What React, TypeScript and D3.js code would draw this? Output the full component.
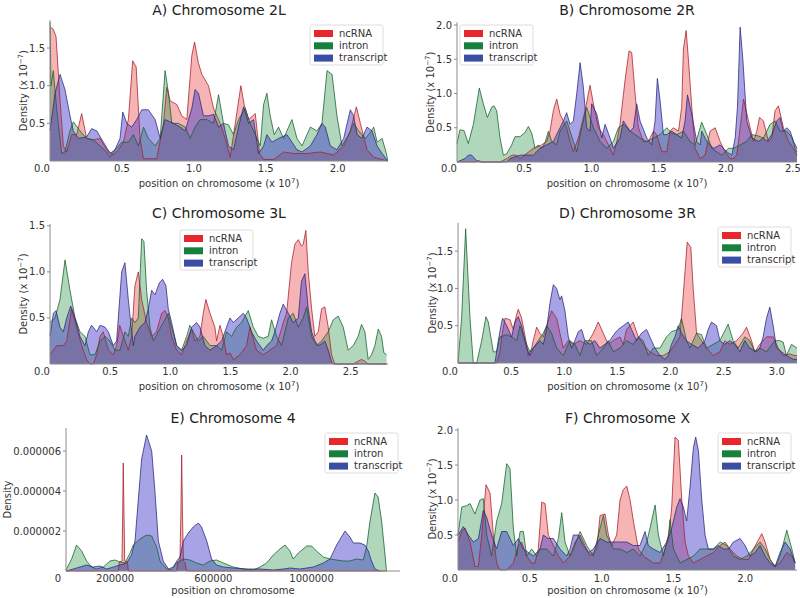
import React from "react";
import * as d3 from "d3";

type Pt = [number, number];

// ---------- A) Chromosome 2L  (x: position x1e7, y: density x1e-7)
const ncRNA2L: Pt[] = [[0,1.78],[0.023,1.75],[0.042,1.65],[0.07,0.8],[0.093,0.2],[0.116,0.12],[0.151,0.35],[0.186,0.35],[0.22,0.63],[0.255,0.3],[0.302,0.28],[0.348,0.3],[0.394,0.15],[0.441,0.08],[0.476,0.15],[0.51,0.25],[0.545,0.55],[0.575,1.33],[0.599,1.25],[0.626,0.3],[0.65,0.03],[0.742,0.03],[0.789,0.5],[0.812,0.98],[0.835,0.8],[0.882,0.75],[0.916,0.6],[0.951,0.55],[0.986,1.4],[1.005,1.58],[1.032,1.3],[1.056,1.15],[1.102,1.0],[1.137,0.7],[1.183,0.5],[1.218,0.3],[1.253,0.05],[1.288,0.5],[1.327,1.0],[1.35,0.75],[1.381,0.55],[1.427,0.63],[1.457,0.1],[1.485,0.02],[1.555,0.02],[1.624,0.12],[1.694,0.1],[1.787,0.1],[1.879,0.12],[1.972,0.08],[2.042,0.2],[2.088,0.4],[2.13,0.72],[2.158,0.5],[2.204,0.15],[2.251,0.05],[2.348,0]];
const intron2L: Pt[] = [[0,1.85],[0.007,1.0],[0.023,1.2],[0.046,0.7],[0.081,0.1],[0.104,0.12],[0.139,0.4],[0.162,0.52],[0.209,0.4],[0.255,0.3],[0.302,0.28],[0.348,0.2],[0.394,0.12],[0.418,0.05],[0.452,0.15],[0.499,0.25],[0.545,0.25],[0.58,0.35],[0.615,0.2],[0.65,0.45],[0.684,0.3],[0.731,0.2],[0.766,0.3],[0.8,1.2],[0.824,0.9],[0.847,0.5],[0.893,0.5],[0.94,0.45],[0.974,0.3],[1.009,0.45],[1.044,0.55],[1.09,0.55],[1.137,0.5],[1.172,0.88],[1.206,0.5],[1.241,0.48],[1.276,0.35],[1.311,0.55],[1.357,0.7],[1.392,0.5],[1.439,0.3],[1.462,0.2],[1.485,0.75],[1.508,0.9],[1.531,0.6],[1.559,0.35],[1.589,0.45],[1.624,0.3],[1.682,0.55],[1.717,0.3],[1.752,0.2],[1.81,0.45],[1.856,0.4],[1.891,0.5],[1.926,1.2],[1.961,1.15],[1.995,0.6],[2.03,0.2],[2.077,0.35],[2.111,0.5],[2.146,0.4],[2.193,0.3],[2.227,0.38],[2.251,0.45],[2.274,0.25],[2.309,0.3],[2.339,0.1],[2.348,0]];
const transcript2L: Pt[] = [[0,0.4],[0.035,0.9],[0.07,1.15],[0.104,0.95],[0.139,0.6],[0.162,0.4],[0.197,0.3],[0.255,0.32],[0.29,0.43],[0.325,0.4],[0.371,0.25],[0.418,0.1],[0.452,0.15],[0.487,0.3],[0.506,0.65],[0.534,0.5],[0.568,0.45],[0.603,0.55],[0.638,0.68],[0.684,0.68],[0.731,0.55],[0.766,0.3],[0.8,0.55],[0.858,0.5],[0.905,0.45],[0.94,0.4],[0.986,0.7],[1.009,0.95],[1.032,0.9],[1.067,0.6],[1.102,0.6],[1.137,0.62],[1.172,0.45],[1.206,0.5],[1.241,0.2],[1.276,0.15],[1.311,0.45],[1.346,0.72],[1.381,0.5],[1.415,0.55],[1.45,0.1],[1.485,0.2],[1.508,0.35],[1.543,0.25],[1.589,0.3],[1.647,0.35],[1.682,0.25],[1.717,0.15],[1.752,0.12],[1.81,0.2],[1.856,0.35],[1.891,0.5],[1.914,0.45],[1.949,0.2],[1.995,0.15],[2.042,0.3],[2.088,0.68],[2.111,0.6],[2.135,0.35],[2.169,0.3],[2.204,0.45],[2.239,0.4],[2.274,0.2],[2.309,0.1],[2.348,0]];

// ---------- B) Chromosome 2R
const ncRNA2R: Pt[] = [[0,0],[0.14,0],[0.16,0.02],[0.19,0],[0.32,0],[0.37,0.05],[0.41,0.1],[0.44,0.1],[0.47,0.05],[0.568,0.2],[0.63,0.25],[0.667,0.3],[0.692,0.45],[0.717,0.75],[0.742,0.92],[0.767,0.7],[0.816,0.5],[0.841,0.3],[0.866,0.15],[0.903,0.35],[0.953,0.75],[0.99,1.12],[1.015,0.85],[1.052,0.5],[1.089,0.4],[1.127,0.25],[1.164,0.1],[1.189,0.3],[1.213,0.55],[1.251,1.2],[1.28,1.62],[1.3,1.6],[1.325,1.0],[1.35,0.5],[1.387,0.3],[1.424,0.3],[1.462,0.45],[1.486,0.4],[1.524,0.15],[1.561,0.15],[1.586,0.45],[1.61,0.5],[1.648,0.45],[1.672,0.8],[1.685,1.65],[1.705,1.92],[1.722,1.5],[1.747,0.8],[1.772,0.2],[1.809,0.05],[1.846,0.1],[1.883,0.45],[1.921,0.5],[1.958,0.3],[1.995,0.15],[2.032,0.05],[2.057,0.05],[2.082,0.1],[2.107,0.5],[2.132,0.92],[2.169,0.6],[2.206,0.3],[2.231,0.45],[2.251,0.65],[2.28,0.6],[2.318,0.3],[2.342,0.35],[2.367,0.75],[2.392,0.82],[2.429,0.5],[2.467,0.3],[2.504,0.2],[2.53,0.1]];
const intron2R: Pt[] = [[0,0.27],[0.022,0.47],[0.052,0.46],[0.084,0.27],[0.122,0.55],[0.166,1.08],[0.196,0.85],[0.226,0.65],[0.258,0.8],[0.275,0.82],[0.295,0.75],[0.32,0.35],[0.345,0.1],[0.37,0.12],[0.407,0.25],[0.432,0.37],[0.469,0.37],[0.506,0.43],[0.531,0.52],[0.556,0.42],[0.581,0.2],[0.605,0.25],[0.63,0.2],[0.655,0.28],[0.68,0.45],[0.705,0.3],[0.742,0.25],[0.767,0.45],[0.816,0.6],[0.866,0.3],[0.891,0.15],[0.928,0.5],[0.965,0.8],[1.015,0.5],[1.065,0.3],[1.114,0.2],[1.164,0.3],[1.201,0.5],[1.238,0.55],[1.288,0.45],[1.325,0.4],[1.362,0.35],[1.412,0.3],[1.462,0.35],[1.511,0.4],[1.561,0.5],[1.598,0.42],[1.635,0.4],[1.685,0.45],[1.734,0.3],[1.772,0.25],[1.821,0.58],[1.859,0.4],[1.896,0.2],[1.933,0.15],[1.97,0.1],[2.02,0.2],[2.057,0.2],[2.107,0.25],[2.156,0.3],[2.194,0.4],[2.243,0.38],[2.28,0.35],[2.33,0.55],[2.367,0.6],[2.404,0.45],[2.454,0.45],[2.495,0.35],[2.516,0.2],[2.53,0.15]];
const transcript2R: Pt[] = [[0,0],[0.06,0.05],[0.084,0.1],[0.109,0.1],[0.146,0.02],[0.171,0],[0.37,0],[0.395,0.05],[0.469,0.1],[0.519,0.1],[0.568,0.1],[0.618,0.2],[0.667,0.25],[0.717,0.3],[0.754,0.45],[0.792,0.6],[0.816,0.72],[0.841,0.55],[0.866,0.6],[0.891,1.0],[0.916,1.45],[0.94,1.1],[0.965,0.5],[0.99,0.45],[1.002,0.85],[1.04,0.7],[1.077,0.35],[1.102,0.55],[1.139,0.35],[1.164,0.2],[1.213,0.35],[1.238,0.6],[1.288,0.45],[1.313,0.5],[1.337,0.85],[1.362,0.6],[1.412,0.35],[1.449,0.25],[1.474,0.6],[1.491,1.22],[1.511,0.9],[1.536,0.4],[1.561,0.4],[1.598,0.45],[1.635,0.4],[1.672,0.35],[1.697,0.6],[1.715,0.98],[1.747,0.7],[1.784,0.3],[1.809,0.25],[1.821,0.45],[1.859,0.3],[1.908,0.2],[1.958,0.25],[2.007,0.15],[2.045,0.1],[2.07,0.35],[2.087,0.8],[2.107,1.97],[2.127,1.5],[2.156,0.6],[2.194,0.35],[2.243,0.3],[2.28,0.35],[2.305,0.3],[2.342,0.4],[2.38,0.6],[2.404,0.65],[2.429,0.45],[2.454,0.5],[2.479,0.45],[2.504,0.3],[2.53,0.2]];

// ---------- C) Chromosome 3L
const ncRNA3L: Pt[] = [[0,0.1],[0.055,0.2],[0.111,0.2],[0.139,0.25],[0.18,0.6],[0.222,0.4],[0.263,0.2],[0.305,0.05],[0.332,0],[0.36,0],[0.388,0.1],[0.416,0.3],[0.443,0.35],[0.485,0.15],[0.526,0.1],[0.554,0.2],[0.58,0.42],[0.61,0.3],[0.651,0.15],[0.679,0.3],[0.706,0.85],[0.734,1.0],[0.762,0.7],[0.803,0.45],[0.845,0.3],[0.886,0.35],[0.928,0.55],[0.956,0.58],[0.983,0.5],[1.011,0.3],[1.053,0.15],[1.094,0.1],[1.136,0.25],[1.177,0.38],[1.205,0.25],[1.247,0.3],[1.274,0.55],[1.296,0.7],[1.33,0.55],[1.371,0.4],[1.385,0.25],[1.413,0.42],[1.44,0.3],[1.468,0.1],[1.496,0.12],[1.524,0.05],[1.579,0.1],[1.634,0.2],[1.662,0.4],[1.717,0.15],[1.773,0.1],[1.828,0.15],[1.884,0.2],[1.939,0.45],[1.967,0.55],[2.008,1.1],[2.036,1.3],[2.064,1.35],[2.091,1.28],[2.105,1.3],[2.127,1.45],[2.147,1.0],[2.175,0.6],[2.202,0.3],[2.23,0.35],[2.258,0.6],[2.285,0.62],[2.313,0.4],[2.341,0.1],[2.368,0],[2.521,0],[2.562,0.03],[2.59,0.05],[2.618,0.03],[2.645,0],[2.798,0]];
const intron3L: Pt[] = [[0,0.45],[0.042,0.5],[0.083,0.7],[0.125,1.13],[0.166,0.8],[0.208,0.5],[0.249,0.35],[0.291,0.3],[0.332,0.1],[0.374,0.1],[0.416,0.25],[0.457,0.3],[0.499,0.25],[0.54,0.15],[0.582,0.15],[0.623,0.35],[0.651,0.3],[0.679,0.5],[0.706,0.45],[0.734,0.5],[0.762,1.36],[0.781,1.33],[0.803,0.8],[0.831,0.4],[0.859,0.25],[0.9,0.35],[0.942,0.45],[0.983,0.55],[1.011,0.4],[1.053,0.2],[1.094,0.15],[1.136,0.3],[1.163,0.42],[1.191,0.35],[1.233,0.25],[1.274,0.3],[1.33,0.2],[1.385,0.2],[1.427,0.15],[1.468,0.35],[1.51,0.3],[1.551,0.4],[1.593,0.45],[1.648,0.58],[1.69,0.4],[1.731,0.3],[1.773,0.28],[1.814,0.3],[1.842,0.48],[1.884,0.3],[1.925,0.2],[1.981,0.5],[2.022,0.55],[2.064,0.4],[2.105,0.5],[2.133,0.62],[2.175,0.3],[2.216,0.2],[2.258,0.25],[2.313,0.35],[2.355,0.48],[2.396,0.52],[2.438,0.4],[2.479,0.15],[2.521,0.2],[2.562,0.3],[2.59,0.43],[2.618,0.35],[2.645,0.05],[2.673,0.1],[2.701,0.2],[2.729,0.38],[2.756,0.3],[2.776,0.12],[2.798,0.1]];
const transcript3L: Pt[] = [[0,0.3],[0.028,0.55],[0.05,0.58],[0.083,0.4],[0.111,0.35],[0.139,0.5],[0.172,0.63],[0.208,0.5],[0.249,0.3],[0.291,0.2],[0.319,0.35],[0.346,0.42],[0.388,0.35],[0.416,0.42],[0.457,0.4],[0.485,0.35],[0.526,0.2],[0.554,0.25],[0.568,0.5],[0.596,1.0],[0.623,1.1],[0.651,0.7],[0.679,0.35],[0.693,0.2],[0.706,0.3],[0.748,0.4],[0.789,0.45],[0.817,0.6],[0.845,0.8],[0.873,0.75],[0.909,0.88],[0.936,0.92],[0.964,0.85],[0.983,0.6],[1.011,0.45],[1.053,0.2],[1.094,0.15],[1.136,0.2],[1.177,0.4],[1.219,0.45],[1.247,0.4],[1.288,0.2],[1.33,0.15],[1.385,0.2],[1.427,0.25],[1.468,0.4],[1.496,0.5],[1.524,0.45],[1.565,0.5],[1.607,0.55],[1.634,0.5],[1.676,0.35],[1.717,0.25],[1.773,0.15],[1.801,0.2],[1.842,0.25],[1.87,0.35],[1.911,0.55],[1.939,0.65],[1.981,0.55],[2.022,0.45],[2.064,0.5],[2.091,0.9],[2.119,0.98],[2.147,0.6],[2.175,0.35],[2.202,0.25],[2.23,0.2],[2.258,0.22],[2.285,0.25],[2.313,0.15],[2.341,0.02],[2.355,0],[2.798,0]];

// ---------- D) Chromosome 3R
const ncRNA3R: Pt[] = [[0,0],[0.364,0],[0.395,0.15],[0.411,0.35],[0.442,0.6],[0.489,0.58],[0.52,0.45],[0.552,0.65],[0.567,0.72],[0.599,0.6],[0.646,0.25],[0.661,0.1],[0.693,0.2],[0.708,0.3],[0.74,0.48],[0.771,0.4],[0.803,0.35],[0.834,0.5],[0.881,0.7],[0.928,0.6],[0.959,0.4],[0.991,0.2],[1.038,0.3],[1.085,0.25],[1.147,0.3],[1.21,0.25],[1.273,0.4],[1.32,0.55],[1.367,0.4],[1.414,0.25],[1.461,0.3],[1.524,0.35],[1.555,0.25],[1.586,0.45],[1.649,0.55],[1.696,0.35],[1.743,0.25],[1.806,0.15],[1.868,0.1],[1.931,0.1],[1.994,0.15],[2.041,0.25],[2.088,0.35],[2.119,0.9],[2.157,1.62],[2.191,1.55],[2.213,1.0],[2.245,0.4],[2.292,0.3],[2.339,0.2],[2.401,0.1],[2.464,0.15],[2.511,0.3],[2.558,0.25],[2.621,0.3],[2.683,0.4],[2.715,0.48],[2.762,0.3],[2.793,0.15],[2.84,0.25],[2.903,0.35],[2.966,0.35],[3.013,0.2],[3.06,0.1],[3.122,0.12],[3.169,0.1],[3.19,0.1]];
const intron3R: Pt[] = [[0,0],[0.034,0.6],[0.072,1.8],[0.113,0.6],[0.144,0],[0.176,0],[0.223,0.3],[0.263,0.62],[0.285,0.55],[0.332,0.15],[0.364,0.15],[0.395,0.35],[0.458,0.38],[0.505,0.35],[0.552,0.3],[0.583,0.5],[0.63,0.3],[0.677,0.15],[0.708,0.2],[0.755,0.3],[0.803,0.4],[0.834,0.5],[0.881,0.4],[0.928,0.2],[0.991,0.1],[1.053,0.3],[1.1,0.25],[1.147,0.1],[1.194,0.3],[1.257,0.3],[1.304,0.1],[1.367,0.2],[1.414,0.3],[1.461,0.15],[1.524,0.2],[1.586,0.3],[1.649,0.25],[1.696,0.35],[1.743,0.3],[1.79,0.1],[1.837,0.2],[1.9,0.2],[1.962,0.35],[2.009,0.42],[2.072,0.45],[2.103,0.6],[2.15,0.3],[2.182,0.2],[2.245,0.4],[2.292,0.38],[2.339,0.2],[2.401,0.25],[2.464,0.3],[2.542,0.52],[2.589,0.3],[2.636,0.2],[2.699,0.35],[2.746,0.3],[2.793,0.15],[2.84,0.2],[2.903,0.15],[2.981,0.3],[3.028,0.3],[3.06,0.28],[3.091,0.1],[3.138,0.25],[3.169,0.22],[3.19,0.2]];
const transcript3R: Pt[] = [[0,0],[0.348,0],[0.379,0.3],[0.411,0.55],[0.42,0.6],[0.458,0.5],[0.505,0.35],[0.536,0.55],[0.567,0.62],[0.599,0.5],[0.646,0.2],[0.677,0.1],[0.708,0.2],[0.771,0.3],[0.803,0.25],[0.834,0.45],[0.865,0.8],[0.897,1.05],[0.928,1.0],[0.959,0.85],[0.975,0.9],[1.006,0.7],[1.038,0.35],[1.069,0.2],[1.1,0.3],[1.132,0.42],[1.163,0.45],[1.194,0.3],[1.241,0.25],[1.288,0.3],[1.335,0.2],[1.382,0.25],[1.429,0.3],[1.476,0.4],[1.508,0.45],[1.555,0.5],[1.602,0.55],[1.633,0.45],[1.68,0.3],[1.727,0.4],[1.774,0.45],[1.821,0.3],[1.853,0.2],[1.9,0.1],[1.947,0.05],[1.978,0.1],[2.009,0.25],[2.041,0.35],[2.072,0.5],[2.103,0.4],[2.15,0.3],[2.197,0.25],[2.26,0.2],[2.292,0.25],[2.323,0.3],[2.354,0.45],[2.386,0.55],[2.433,0.5],[2.464,0.3],[2.511,0.25],[2.558,0.3],[2.605,0.25],[2.652,0.15],[2.699,0.3],[2.746,0.2],[2.809,0.15],[2.84,0.2],[2.871,0.35],[2.903,0.6],[2.934,0.75],[2.966,0.5],[2.997,0.2],[3.044,0.15],[3.091,0.1],[3.154,0.05],[3.19,0.05]];

// ---------- E) Chromosome 4  (x: bp, y: density x1e-6)
const ncRNA4: Pt[] = [[0,0],[213000,0],[217000,0.45],[228000,0.5],[231000,3.0],[233000,5.4],[236000,3.0],[239000,0.5],[250000,0.45],[254000,0],[451000,0],[455000,0.45],[464000,0.5],[468000,3.0],[471000,5.8],[474000,3.0],[478000,0.5],[484000,0.45],[491000,0],[1305000,0]];
const intron4: Pt[] = [[0,0.05],[23000,0.6],[43000,1.3],[64000,1.0],[84000,0.5],[104000,0.2],[125000,0.1],[152000,0.2],[179000,0.5],[199000,0.55],[220000,0.45],[240000,0.4],[261000,0.9],[274000,1.3],[301000,1.6],[328000,1.8],[349000,1.75],[369000,1.2],[383000,0.5],[410000,0.1],[430000,0.05],[451000,0.4],[478000,0.6],[505000,0.55],[532000,0.4],[559000,0.3],[586000,0.5],[613000,0.55],[641000,0.4],[681000,0.2],[722000,0.1],[763000,0.05],[790000,0.2],[817000,0.4],[844000,0.8],[871000,1.1],[892000,1.3],[912000,1.0],[925000,0.6],[946000,0.9],[980000,1.25],[1000000,1.25],[1020000,1.0],[1048000,0.7],[1075000,0.6],[1102000,0.55],[1129000,0.5],[1156000,0.5],[1183000,0.6],[1210000,0.55],[1224000,1.2],[1238000,2.5],[1258000,3.9],[1271000,3.7],[1285000,2.5],[1299000,0.8],[1305000,0]];
const transcript4: Pt[] = [[0,0],[30000,0.1],[57000,0.2],[84000,0.3],[111000,0.2],[138000,0.25],[166000,0.1],[193000,0.2],[220000,0.3],[247000,0.4],[267000,0.8],[281000,1.5],[294000,3.5],[308000,5.6],[328000,6.8],[349000,6.0],[362000,4.0],[376000,1.5],[396000,0.5],[417000,0.1],[437000,0.2],[451000,0.5],[464000,0.7],[478000,1.5],[498000,1.9],[518000,2.2],[539000,2.4],[552000,2.2],[573000,1.5],[593000,0.6],[613000,0.3],[641000,0.2],[681000,0.15],[736000,0.1],[790000,0.1],[844000,0.05],[885000,0.1],[912000,0.15],[953000,0.1],[1007000,0.2],[1048000,0.4],[1075000,0.6],[1102000,1.3],[1136000,2.0],[1156000,1.7],[1170000,1.4],[1197000,1.4],[1217000,1.3],[1231000,1.0],[1244000,0.5],[1258000,0.1],[1278000,0]];

// ---------- F) Chromosome X
const ncRNAX: Pt[] = [[0,0.4],[0.026,0.55],[0.049,0.6],[0.084,0.4],[0.118,0.05],[0.142,0.05],[0.165,0.5],[0.195,1.22],[0.223,1.1],[0.246,0.5],[0.269,0.1],[0.292,0],[0.339,0],[0.385,0.1],[0.42,0.35],[0.443,0.4],[0.478,0.2],[0.513,0.1],[0.536,0.1],[0.559,0.3],[0.583,0.97],[0.606,0.95],[0.629,0.5],[0.664,0.35],[0.699,0.2],[0.734,0.1],[0.78,0.2],[0.815,0.4],[0.85,0.5],[0.884,0.35],[0.919,0.2],[0.966,0.3],[0.989,0.78],[1.024,0.8],[1.047,0.5],[1.07,0.35],[1.105,0.5],[1.128,1.0],[1.151,1.15],[1.175,1.2],[1.198,1.0],[1.221,0.7],[1.256,0.3],[1.291,0.2],[1.325,0.15],[1.36,0.1],[1.407,0.1],[1.442,0.3],[1.465,0.45],[1.488,0.9],[1.511,1.9],[1.534,1.85],[1.558,1.0],[1.581,0.4],[1.604,0.2],[1.639,0.1],[1.685,0.15],[1.732,0.2],[1.778,0.25],[1.825,0.35],[1.859,0.4],[1.894,0.3],[1.941,0.2],[1.987,0.15],[2.022,0.15],[2.057,0.3],[2.115,0.52],[2.138,0.4],[2.173,0.15],[2.208,0.05],[2.242,0.1],[2.289,0.25],[2.324,0.2],[2.347,0.1]];
const intronX: Pt[] = [[0,0.5],[0.026,0.9],[0.06,0.92],[0.084,0.95],[0.118,0.8],[0.153,1.0],[0.176,1.02],[0.2,0.5],[0.234,0.2],[0.269,0.7],[0.304,0.95],[0.339,1.52],[0.362,1.45],[0.385,0.6],[0.409,0.2],[0.432,0.55],[0.455,0.55],[0.478,0.2],[0.513,0.3],[0.548,0.2],[0.571,0.3],[0.617,0.3],[0.664,0.2],[0.699,0.45],[0.722,0.82],[0.745,0.4],[0.78,0.2],[0.803,0.3],[0.85,0.55],[0.896,0.35],[0.942,0.2],[0.989,0.6],[1.012,0.78],[1.035,0.5],[1.082,0.3],[1.128,0.3],[1.175,0.25],[1.221,0.3],[1.267,0.2],[1.314,0.4],[1.337,0.6],[1.372,0.93],[1.395,0.5],[1.43,0.2],[1.465,0.5],[1.476,0.72],[1.5,0.3],[1.546,0.1],[1.592,0.15],[1.639,0.2],[1.685,0.3],[1.732,0.3],[1.778,0.3],[1.825,0.4],[1.871,0.35],[1.917,0.2],[1.964,0.15],[2.01,0.2],[2.057,0.3],[2.103,0.4],[2.138,0.3],[2.173,0.15],[2.208,0.05],[2.242,0.2],[2.289,0.57],[2.324,0.3],[2.347,0.1]];
const transcriptX: Pt[] = [[0,0.5],[0.037,0.62],[0.072,0.5],[0.107,0.4],[0.142,0.45],[0.176,0.85],[0.2,0.75],[0.234,0.5],[0.269,0.3],[0.304,0.55],[0.339,0.55],[0.385,0.35],[0.42,0.45],[0.455,0.3],[0.49,0.25],[0.525,0.2],[0.571,0.3],[0.594,0.5],[0.629,0.45],[0.664,0.45],[0.71,0.3],[0.757,0.2],[0.78,0.3],[0.803,0.5],[0.838,0.5],[0.873,0.35],[0.908,0.25],[0.942,0.3],[0.989,0.45],[1.035,0.4],[1.082,0.4],[1.128,0.4],[1.175,0.4],[1.221,0.35],[1.267,0.35],[1.302,0.55],[1.325,0.35],[1.36,0.3],[1.407,0.25],[1.453,0.4],[1.488,0.6],[1.523,0.9],[1.546,1.02],[1.569,0.9],[1.592,0.7],[1.616,1.2],[1.639,1.75],[1.655,1.9],[1.674,1.7],[1.697,1.0],[1.72,0.5],[1.743,0.3],[1.778,0.3],[1.813,0.35],[1.848,0.3],[1.883,0.3],[1.917,0.4],[1.964,0.45],[1.999,0.35],[2.033,0.2],[2.068,0.25],[2.103,0.35],[2.138,0.2],[2.173,0.1],[2.208,0.05],[2.242,0.25],[2.277,0.4],[2.312,0.3],[2.347,0.1]];

// ---------- ticks
const xTicks2L = [0, 0.5, 1.0, 1.5, 2.0];
const xTicks2R = [0, 0.5, 1.0, 1.5, 2.0, 2.5];
const xTicks3L = [0, 0.5, 1.0, 1.5, 2.0, 2.5];
const xTicks3R = [0, 0.5, 1.0, 1.5, 2.0, 2.5, 3.0];
const xTicks4 = [0, 200000, 600000, 1000000];
const xTicksX = [0, 0.5, 1.0, 1.5, 2.0];
const yTicks2L = [0.5, 1.0, 1.5];
const yTicks2R = [0.5, 1.0, 1.5, 2.0];
const yTicks3L = [0.5, 1.0, 1.5];
const yTicks3R = [0.5, 1.0, 1.5];
const yTicks4 = [2, 4, 6];
const yTickLabels4 = ["0.000002", "0.000004", "0.000006"];
const yTicksX = [0.5, 1.0, 1.5, 2.0];

const seriesNames = ["ncRNA", "intron", "transcript"];
const fillColors = ["rgba(232,40,40,0.35)", "rgba(30,140,60,0.35)", "rgba(60,50,200,0.45)"];
const lineColors = ["rgba(165,30,45,0.85)", "rgba(20,95,45,0.85)", "rgba(40,40,120,0.85)"];
const swatchColors = ["#e8262c", "#17803f", "#3a4ea3"];

const FONT = "DejaVu Sans, sans-serif";

interface PanelCfg {
  title: string;
  series: Pt[][];
  xDomain: [number, number];
  yMax: number;
  xTicks: number[];
  xFmt: (v: number) => string;
  yTicks: number[];
  yFmt: (v: number, i: number) => string;
  sci: boolean;
  l: number; r: number; t: number; b: number;
  titleY: number; xTickY: number; xLabelY: number; yLabelX: number;
  legendX: number; legendY: number;
}

const f1 = (v: number) => v.toFixed(1);

const panels: PanelCfg[] = [
  { title: "A) Chromosome 2L", series: [ncRNA2L, intron2L, transcript2L], xDomain: [0, 2.35], yMax: 1.87,
    xTicks: xTicks2L, xFmt: f1, yTicks: yTicks2L, yFmt: f1, sci: true,
    l: 50, r: 388, t: 20.2, b: 161, titleY: 15, xTickY: 172, xLabelY: 187, yLabelX: 23, legendX: 310, legendY: 25 },
  { title: "B) Chromosome 2R", series: [ncRNA2R, intron2R, transcript2R], xDomain: [0, 2.53], yMax: 2.04,
    xTicks: xTicks2R, xFmt: f1, yTicks: yTicks2R, yFmt: f1, sci: true,
    l: 457, r: 797, t: 22.3, b: 162, titleY: 15, xTickY: 172, xLabelY: 187, yLabelX: 430, legendX: 460, legendY: 25 },
  { title: "C) Chromosome 3L", series: [ncRNA3L, intron3L, transcript3L], xDomain: [0, 2.81], yMax: 1.52,
    xTicks: xTicks3L, xFmt: f1, yTicks: yTicks3L, yFmt: f1, sci: true,
    l: 50, r: 388, t: 224, b: 364, titleY: 218, xTickY: 375, xLabelY: 390, yLabelX: 23, legendX: 180, legendY: 230 },
  { title: "D) Chromosome 3R", series: [ncRNA3R, intron3R, transcript3R], xDomain: [0, 3.19], yMax: 1.88,
    xTicks: xTicks3R, xFmt: f1, yTicks: yTicks3R, yFmt: f1, sci: true,
    l: 458, r: 797, t: 222.8, b: 363, titleY: 218, xTickY: 375, xLabelY: 390, yLabelX: 432, legendX: 718, legendY: 227 },
  { title: "E) Chromosome 4", series: [ncRNA4, intron4, transcript4], xDomain: [0, 1360000], yMax: 7.15,
    xTicks: xTicks4, xFmt: (v) => String(v), yTicks: yTicks4, yFmt: (_v, i) => yTickLabels4[i], sci: false,
    l: 66, r: 400, t: 428, b: 571, titleY: 423, xTickY: 582, xLabelY: 594, yLabelX: 7, legendX: 325, legendY: 433 },
  { title: "F) Chromosome X", series: [ncRNAX, intronX, transcriptX], xDomain: [0, 2.36], yMax: 2.03,
    xTicks: xTicksX, xFmt: f1, yTicks: yTicksX, yFmt: f1, sci: true,
    l: 458, r: 797, t: 428, b: 570, titleY: 423, xTickY: 582, xLabelY: 594, yLabelX: 432, legendX: 718, legendY: 433 },
];

function Panel({ cfg }: { cfg: PanelCfg }) {
  const x = d3.scaleLinear().domain(cfg.xDomain).range([cfg.l, cfg.r]);
  const y = d3.scaleLinear().domain([0, cfg.yMax]).range([cfg.b, cfg.t]);
  const area = d3.area<Pt>().x((d) => x(d[0])).y0(y(0)).y1((d) => y(d[1])).curve(d3.curveLinear);
  const line = d3.line<Pt>().x((d) => x(d[0])).y((d) => y(d[1])).curve(d3.curveLinear);
  const cx = (cfg.l + cfg.r) / 2;
  const cy = (cfg.t + cfg.b) / 2;
  return (
    <g>
      <text x={cx} y={cfg.titleY} textAnchor="middle" fontSize={14} fill="#222">{cfg.title}</text>
      {cfg.series.map((s, i) => (
        <path key={"a" + i} d={area(s) || ""} fill={fillColors[i]} stroke="none" />
      ))}
      {cfg.series.map((s, i) => (
        <path key={"l" + i} d={line(s) || ""} fill="none" stroke={lineColors[i]} strokeWidth={0.9} strokeLinejoin="round" />
      ))}
      <line x1={cfg.l} x2={cfg.l} y1={cfg.t} y2={cfg.b} stroke="#8a8a8a" strokeWidth={1} />
      <line x1={cfg.l} x2={cfg.r} y1={cfg.b} y2={cfg.b} stroke="#8a8a8a" strokeWidth={1} />
      {cfg.yTicks.map((v, i) => (
        <g key={"yt" + i}>
          <line x1={cfg.l - 3} x2={cfg.l} y1={y(v)} y2={y(v)} stroke="#8a8a8a" />
          <text x={cfg.l - 5} y={y(v)} dy="0.35em" textAnchor="end" fontSize={10} fill="#333">{cfg.yFmt(v, i)}</text>
        </g>
      ))}
      {cfg.xTicks.map((v, i) => (
        <text key={"xt" + i} x={x(v) + (v === 0 ? -8 : 0)} y={cfg.xTickY} textAnchor="middle" fontSize={10} fill="#333">{cfg.xFmt(v)}</text>
      ))}
      <text x={cx} y={cfg.xLabelY} textAnchor="middle" fontSize={10} fill="#333">
        {cfg.sci ? (
          <>
            position on chromosome (x 10<tspan dy={-4} fontSize={7}>7</tspan><tspan dy={4}>)</tspan>
          </>
        ) : (
          "position on chromosome"
        )}
      </text>
      <text transform={`translate(${cfg.yLabelX},${cy}) rotate(-90)`} dy="0.35em" textAnchor="middle" fontSize={10} fill="#333">
        {cfg.sci ? (
          <>
            Density (x 10<tspan dy={-4} fontSize={7}>−7</tspan><tspan dy={4}>)</tspan>
          </>
        ) : (
          "Density"
        )}
      </text>
      <g transform={`translate(${cfg.legendX},${cfg.legendY})`}>
        <rect x={0} y={0} width={73} height={40} rx={2} fill="rgba(255,255,255,0.85)" stroke="#dddddd" />
        {seriesNames.map((n, i) => (
          <g key={n} transform={`translate(0,${8 + i * 12.3})`}>
            <rect x={4} y={-3} width={19} height={7} fill={swatchColors[i]} />
            <text x={29} y={0} dy="0.35em" fontSize={10} fill="#333">{n}</text>
          </g>
        ))}
      </g>
    </g>
  );
}

export default function App() {
  return (
    <svg width={800} height={598} style={{ position: "absolute", left: 0, top: 0, fontFamily: FONT }}>
      <rect x={0} y={0} width={800} height={598} fill="#fff" />
      {panels.map((p) => (
        <Panel key={p.title} cfg={p} />
      ))}
    </svg>
  );
}
